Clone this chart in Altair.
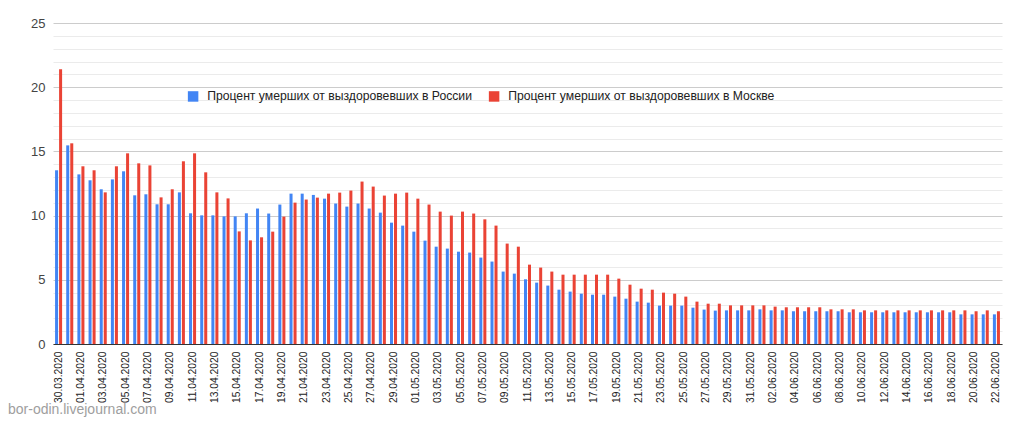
import altair as alt
import pandas as pd

dates = [d.strftime("%d.%m.%Y") for d in pd.date_range("2020-03-30", "2020-06-22")]

russia = [13.53, 15.47, 13.21, 12.75, 12.05, 12.82, 13.45, 11.58, 11.66, 10.88,
          10.88, 11.81, 10.18, 10.02, 10.02, 9.94, 9.94, 10.18, 10.55, 10.16,
          10.86, 11.71, 11.71, 11.61, 11.32, 10.94, 10.70, 10.94, 10.55, 10.23,
          9.45, 9.22, 8.75, 8.05, 7.58, 7.43, 7.19, 7.12, 6.73, 6.42,
          5.64, 5.48, 5.04, 4.78, 4.55, 4.23, 4.08, 3.92, 3.84, 3.84,
          3.69, 3.53, 3.30, 3.22, 2.99, 2.99, 2.99, 2.83, 2.68, 2.60,
          2.62, 2.62, 2.62, 2.70, 2.62, 2.62, 2.55, 2.55, 2.55, 2.55,
          2.55, 2.47, 2.47, 2.47, 2.47, 2.47, 2.47, 2.47, 2.47, 2.47,
          2.47, 2.31, 2.31, 2.31, 2.31]

moscow = [21.39, 15.63, 13.84, 13.53, 11.81, 13.84, 14.85, 14.07, 13.91, 11.42,
          12.05, 14.23, 14.85, 13.37, 11.81, 11.34, 8.77, 8.07, 8.31, 8.75,
          9.92, 11.01, 11.25, 11.40, 11.71, 11.79, 11.95, 12.65, 12.26, 11.56,
          11.71, 11.79, 11.32, 10.86, 10.31, 10.00, 10.31, 10.16, 9.71, 9.22,
          7.82, 7.58, 6.18, 5.95, 5.64, 5.40, 5.40, 5.40, 5.40, 5.40,
          5.09, 4.62, 4.31, 4.23, 4.00, 3.92, 3.69, 3.30, 3.14, 3.14,
          3.01, 3.01, 3.01, 3.01, 2.91, 2.86, 2.86, 2.86, 2.86, 2.70,
          2.70, 2.70, 2.62, 2.62, 2.62, 2.62, 2.62, 2.62, 2.62, 2.62,
          2.62, 2.62, 2.55, 2.62, 2.55]

series_names = ["Процент умерших от выздоровевших в России",
                "Процент умерших от выздоровевших в Москве"]
colors = ["#4285F4", "#EA4335"]
watermark = ["bor-odin.livejournal.com"]

rows = []
for d, r, m in zip(dates, russia, moscow):
    rows.append({"date": d, "series": series_names[0], "value": r})
    rows.append({"date": d, "series": series_names[1], "value": m})
df = pd.DataFrame(rows)

label_dates = dates[::2]
font = "Liberation Sans"

bars = alt.Chart(df).mark_bar().encode(
    x=alt.X("date:N", sort=dates,
            scale=alt.Scale(domain=dates, paddingInner=0.37, paddingOuter=0.185),
            axis=alt.Axis(values=label_dates, labelAngle=270, title=None,
                          ticks=False, labelPadding=7, labelFontSize=10.3,
                          labelColor="#222222", domainColor="#333333",
                          labelFont=font, labelAlign="right", labelBaseline="middle")),
    xOffset=alt.XOffset("series:N", sort=series_names,
                        scale=alt.Scale(domain=series_names, paddingInner=0.25, paddingOuter=0)),
    y=alt.Y("value:Q", scale=alt.Scale(domain=[0, 25], nice=False),
            axis=alt.Axis(values=list(range(26)),
                          labelExpr="datum.value % 5 === 0 ? datum.label : ''",
                          gridColor={"condition": {"test": "datum.value % 5 === 0", "value": "#cccccc"},
                                     "value": "#ebebeb"},
                          ticks=False, domain=False, title=None, labelFontSize=13,
                          labelPadding=8, labelColor="#444444", labelFont=font)),
    color=alt.Color("series:N",
                    scale=alt.Scale(domain=series_names, range=colors),
                    legend=alt.Legend(orient="none", legendX=134, legendY=67,
                                      direction="horizontal", title=None,
                                      symbolType="square", symbolSize=110,
                                      symbolStrokeWidth=0, labelFontSize=12.2,
                                      labelFont=font, labelColor="#222222",
                                      labelLimit=400, columnPadding=16,
                                      labelOffset=8)),
)

wm = alt.Chart(pd.DataFrame({"t": watermark})).mark_text(
    align="left", baseline="alphabetic", fontSize=14, color="#9e9e9e", font=font
).encode(x=alt.value(-45), y=alt.value(391), text="t:N")

chart = alt.layer(bars, wm).properties(
    width=949, height=321,
    padding={"left": 45, "top": 15, "right": 14, "bottom": 74},
    autosize="none",
).configure_view(stroke=None)

chart.save("out.html", embed_options={"renderer": "svg", "actions": False})
